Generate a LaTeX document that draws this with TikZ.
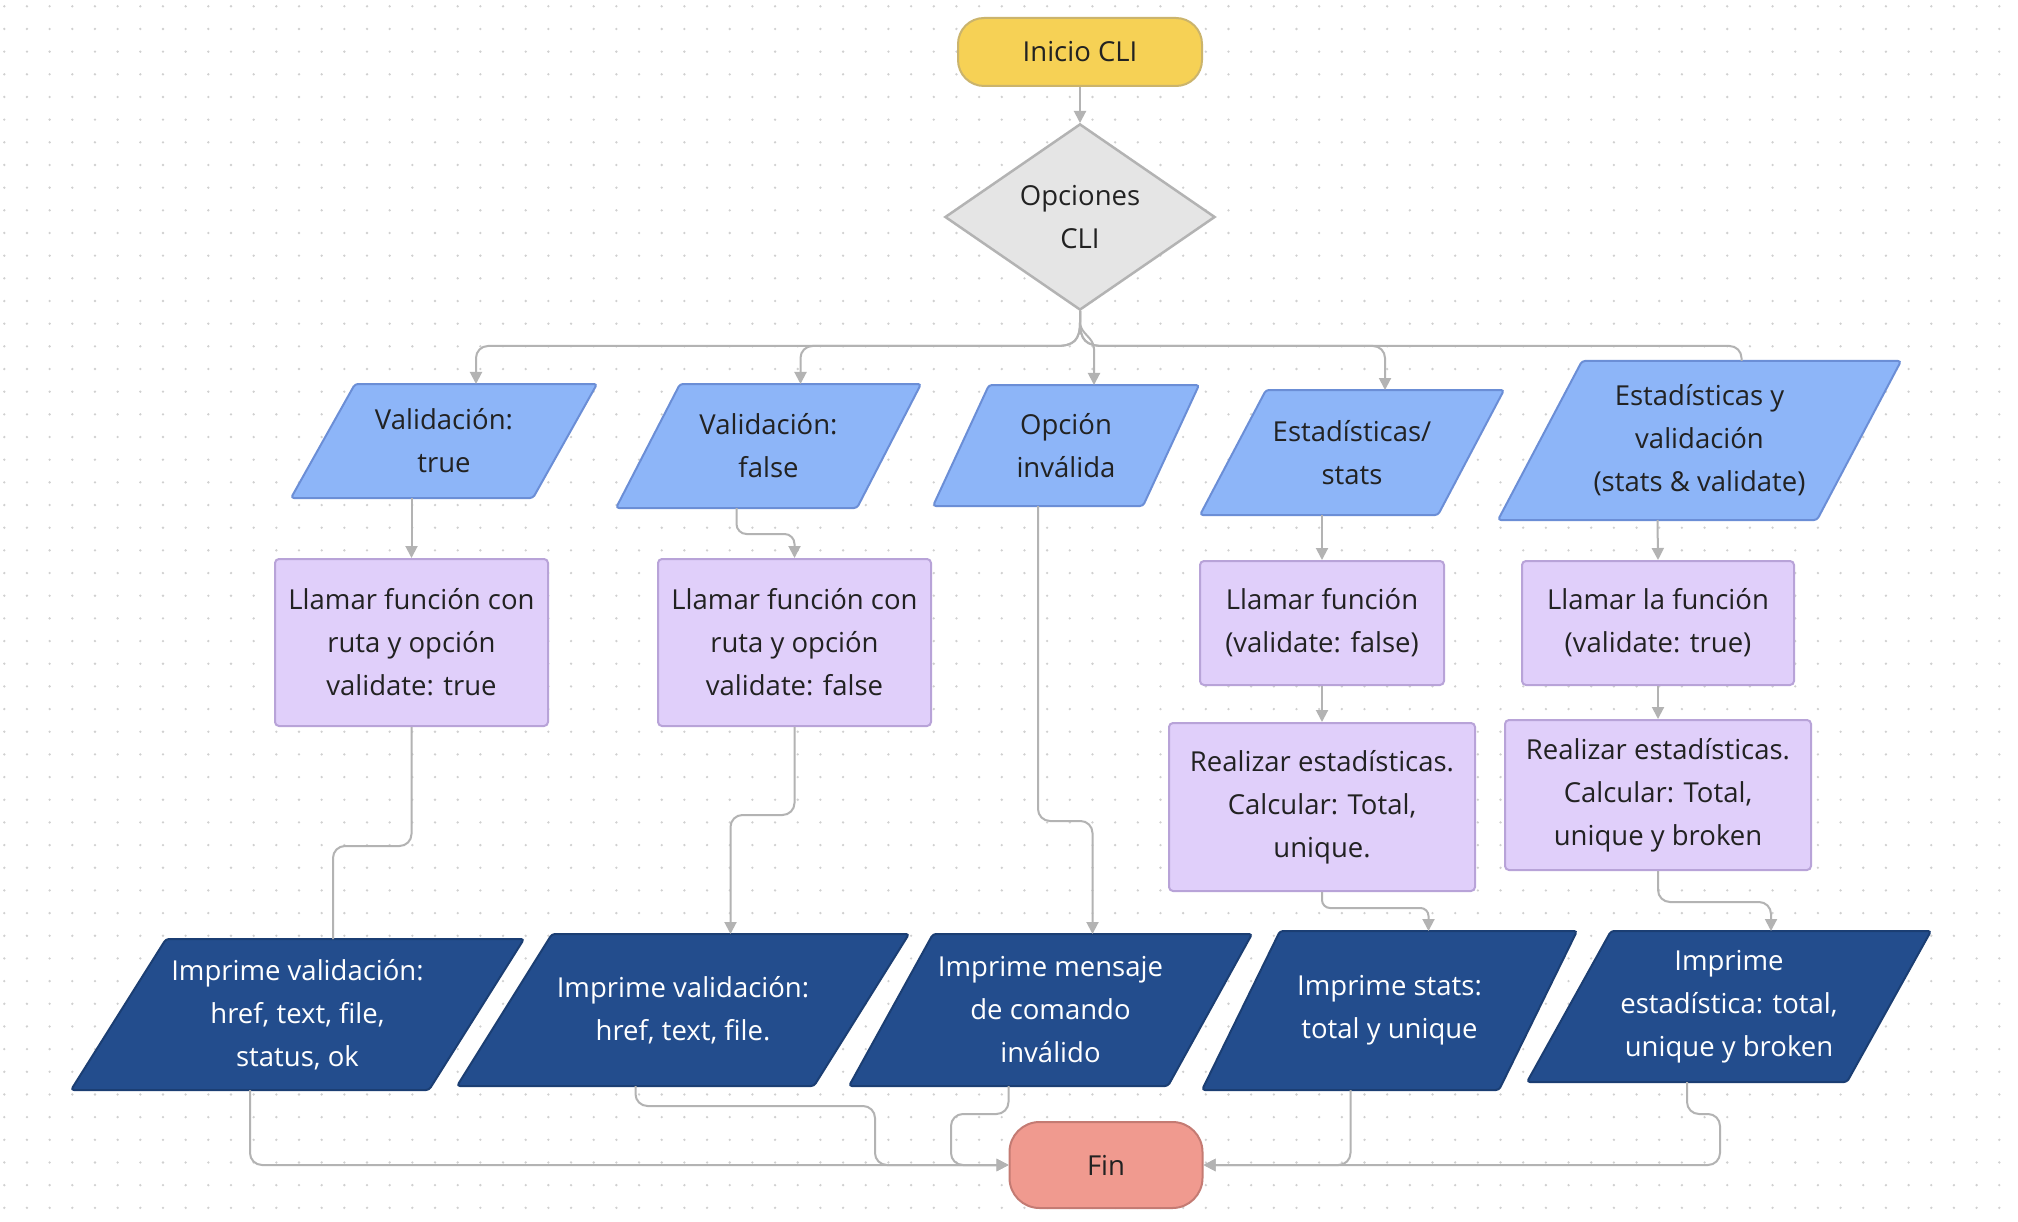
\documentclass[tikz,border=0pt]{standalone}
\usepackage{fontspec}
\setmainfont{Open Sans}
\usetikzlibrary{arrows.meta,shapes.geometric,calc}
\pgfdeclarelayer{gridlayer}
\pgfdeclarelayer{shapelayer}
\pgfsetlayers{gridlayer,shapelayer,main}

\definecolor{gridc}{HTML}{D0D0D0}
\definecolor{linec}{HTML}{B3B3B3}
\definecolor{ini}{HTML}{F6D155}
\definecolor{inid}{HTML}{CBB46C}
\definecolor{dia}{HTML}{E5E5E5}
\definecolor{diad}{HTML}{B3B3B3}
\definecolor{lb}{HTML}{8DB5F8}
\definecolor{lbd}{HTML}{6B8ED6}
\definecolor{pu}{HTML}{E0CFFA}
\definecolor{pud}{HTML}{B8A3D8}
\definecolor{db}{HTML}{234D8D}
\definecolor{dbd}{HTML}{1B3E73}
\definecolor{fin}{HTML}{F09A8F}
\definecolor{find}{HTML}{C47B73}
\definecolor{txt}{HTML}{222222}

\tikzset{
  basetext/.style={font=\fontsize{27.5}{43}\selectfont, align=center, text=txt, inner sep=0pt, outer sep=0pt},
  lbpara/.style={basetext},
  lbpara shape/.style={fill=lb, draw=lbd, line width=2pt},
  dbpara/.style={basetext, text=white},
  dbpara shape/.style={fill=db, draw=dbd, line width=2pt},
  pubox/.style={basetext, fill=pu, draw=pud, line width=2pt, rounded corners=4pt, outer sep=1pt},
  startbox/.style={basetext, fill=ini, draw=inid, line width=2pt, rounded corners=26pt, outer sep=1pt},
  endbox/.style={basetext, fill=fin, draw=find, line width=2pt, rounded corners=30pt, outer sep=1pt},
  decision/.style={basetext, shape=diamond, fill=dia, draw=diad, line width=2.5pt, outer sep=1pt},
  conn/.style={draw=linec, line width=2pt, rounded corners=12pt},
  arr/.style={-{Triangle[length=12pt,width=12pt]}},
}

% #1 name, #2 style, #3 left x, #4 right x, #5 top y, #6 bottom y, #7 slant, #8 text
\newcommand{\mypara}[8]{%
  \node[#2, minimum width={#4-#3}, minimum height={#6-#5}] (#1) at ({(#3+#4)/2},{(#5+#6)/2}) {#8};
  \begin{pgfonlayer}{shapelayer}
    \path[#2 shape, rounded corners=3pt] (#1.south west) -- ($(#1.south east)+(-#7,0)$) -- (#1.north east) -- ($(#1.north west)+(#7,0)$) -- cycle;
  \end{pgfonlayer}
  \coordinate (#1-t) at ($(#1.north)+({#7/2},0)$);
  \coordinate (#1-b) at ($(#1.south)+({-#7/2},0)$);
}

\begin{document}
\begin{tikzpicture}[x=1pt,y=-1pt]
\useasboundingbox (0,0) rectangle (2018,1222);
\begin{pgfonlayer}{gridlayer}
  \fill[white] (0,0) rectangle (2018,1222);
  \foreach \i in {0,...,88} {
    \foreach \j in {0,...,53} {
      \fill[gridc] ({4.3+22.67*\i},{6.3+22.67*\j}) circle (1.3);
    }
  }
\end{pgfonlayer}

% start / decision
\node[startbox, minimum width=244, minimum height=68] (ini) at (1080,52) {Inicio CLI};
\node[decision, minimum width=270, minimum height=186] (dia) at (1080,217) {Opciones\\CLI};

% first row (light blue)
\mypara{V1}{lbpara}{291}{597}{384}{498}{64}{Validación:\\true}
\mypara{V2}{lbpara}{616}{921}{384}{508}{64}{Validación:\\false}
\mypara{V3}{lbpara}{933}{1199}{385}{506}{56}{Opción\\inválida}
\mypara{V4}{lbpara}{1200}{1504}{390}{515}{66}{Estadísticas/\\stats}
\mypara{V5}{lbpara}{1498}{1901}{361}{520}{84}{Estadísticas y\\validación\\(stats \& validate)}

% purple boxes
\node[pubox, minimum width=273, minimum height=167] (A) at (411.5,642.5) {Llamar función con\\ruta y opción\\validate: true};
\node[pubox, minimum width=273, minimum height=167] (B) at (794.5,642.5) {Llamar función con\\ruta y opción\\validate: false};
\node[pubox, minimum width=244, minimum height=124] (C) at (1322,623) {Llamar función\\(validate: false)};
\node[pubox, minimum width=272, minimum height=124] (D) at (1658,623) {Llamar la función\\(validate: true)};
\node[pubox, minimum width=306, minimum height=168] (E) at (1322,807) {Realizar estadísticas.\\Calcular: Total,\\unique.};
\node[pubox, minimum width=306, minimum height=150] (F) at (1658,795) {Realizar estadísticas.\\Calcular: Total,\\unique y broken};

% dark blue row
\mypara{P1}{dbpara}{71}{524}{939}{1090}{95}{Imprime validación:\\href, text, file,\\status, ok}
\mypara{P2}{dbpara}{457}{909}{934}{1086}{95}{Imprime validación:\\href, text, file.}
\mypara{P3}{dbpara}{849}{1252}{934}{1086}{84}{Imprime mensaje\\de comando\\inválido}
\mypara{P4}{dbpara}{1202}{1577}{931}{1090}{78}{Imprime stats:\\total y unique}
\mypara{P5}{dbpara}{1527}{1931}{931}{1082}{84}{Imprime\\estadística: total,\\unique y broken}

\node[endbox, minimum width=193, minimum height=86] (fin) at (1106,1165) {Fin};

% connectors
\draw[conn,arr] (ini.south) -- (dia.north);
\draw[conn,arr,sharp corners] (dia.south) -- (1080,322) .. controls (1080,340) and (1074,346) .. (1056,346) [rounded corners=12pt] -| (V1-t);
\draw[conn,arr,sharp corners] (dia.south) -- (1080,322) .. controls (1080,340) and (1074,346) .. (1056,346) [rounded corners=12pt] -| (V2-t);
\draw[conn,arr,sharp corners] (dia.south) -- (1080,322) .. controls (1080,334) and (1094,337) .. (1094,349) -- (V3-t);
\draw[conn,arr,sharp corners] (dia.south) -- (1080,322) .. controls (1080,340) and (1086,346) .. (1104,346) [rounded corners=12pt] -| (V4-t);
\draw[conn,sharp corners] (dia.south) -- (1080,322) .. controls (1080,340) and (1086,346) .. (1104,346) [rounded corners=12pt] -| (V5-t);

\draw[conn,arr] (A.north |- V1-b) -- (A.north);
\draw[conn,arr,rounded corners=10pt] (V2-b) -- ++(0,26) -| (B.north);
\draw[conn,arr] (V3-b) -- ++(0,315) -| (P3-t);
\draw[conn,arr] (C.north |- V4-b) -- (C.north);
\draw[conn,arr] (V5-b) -- (D.north);

\draw[conn] (A.south) -- ++(0,119) -| ($(P1-t)+(-12,0)$);
\draw[conn,arr] (B.south) -- ++(0,88) -| (P2-t);
\draw[conn,arr] (C.south) -- (E.north);
\draw[conn,arr] (D.south) -- (F.north);
\draw[conn,arr,rounded corners=8pt] (E.south) -- ++(0,16) -| (P4-t);
\draw[conn,arr] (F.south) -- ++(0,31) -| (P5-t);

\draw[conn,arr] (P1-b) |- (fin.west);
\draw[conn,arr] (P2-b) -- ++(0,20) -- (875,1106) -- (875,1165) -- (fin.west);
\draw[conn,arr] (P3-b) -- ++(0,28) -- (951,1114) -- (951,1165) -- (fin.west);
\draw[conn,arr] (P4-b) |- (fin.east);
\draw[conn,arr] (P5-b) -- ++(0,32) -- (1720,1114) -- (1720,1165) -- (fin.east);
\end{tikzpicture}
\end{document}
